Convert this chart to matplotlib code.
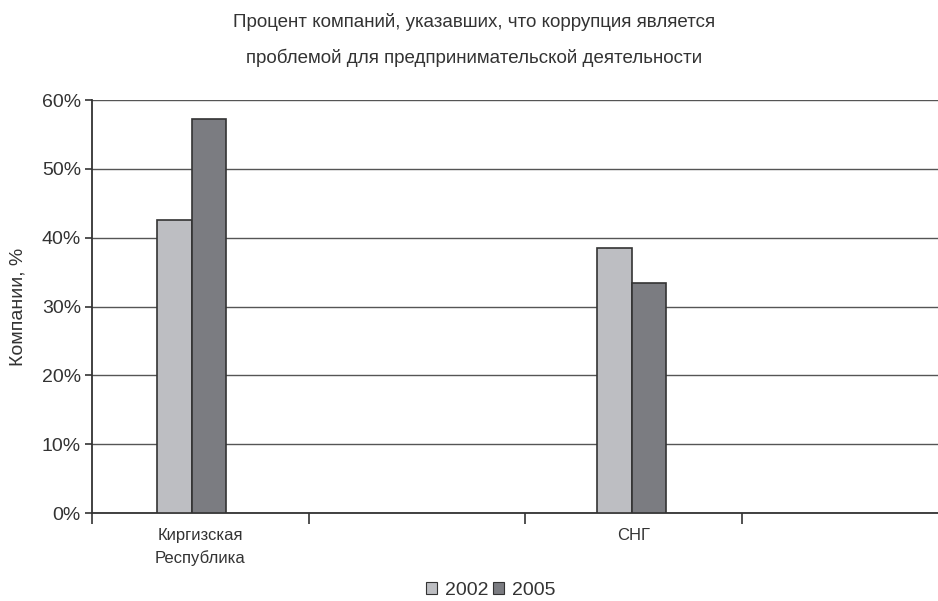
import matplotlib
matplotlib.use("Agg")
import matplotlib.pyplot as plt
from matplotlib.ticker import FuncFormatter, FixedLocator
from matplotlib.patches import Patch
import numpy as np

plt.rcParams['font.family'] = ['Liberation Sans', 'DejaVu Sans']

categories = ["Киргизская\nРеспублика", "", "СНГ", ""]
series_names = ["2002", "2005"]
values_2002 = [42.5, None, 38.5, None]
values_2005 = [57.3, None, 33.4, None]
title = "Процент компаний, указавших, что коррупция является\nпроблемой для предпринимательской деятельности"
ylabel = "Компании, %"
yticks = [0, 10, 20, 30, 40, 50, 60]

c2002 = "#bdbec2"
c2005 = "#7b7c81"
edge = "#333333"
txt = "#333333"

fig = plt.figure(figsize=(9.38, 6.01), dpi=100)
ax = fig.add_axes([92/938, 88/601, 1 - 92/938, 413/601])

x = np.arange(len(categories))
w = 0.16
offs = [-0.04, 0.0, -0.008, 0.0]
for i in range(len(categories)):
    if values_2002[i] is not None:
        ax.bar(x[i] + offs[i] - w/2, values_2002[i], w, color=c2002, edgecolor=edge, linewidth=1.2, zorder=3)
    if values_2005[i] is not None:
        ax.bar(x[i] + offs[i] + w/2, values_2005[i], w, color=c2005, edgecolor=edge, linewidth=1.2, zorder=3)

ax.set_xlim(-0.5, -0.5 + (938 - 92) / 216.5)
ax.set_ylim(0, 60)
ax.set_yticks(yticks)
ax.yaxis.set_major_formatter(FuncFormatter(lambda v, p: f"{int(v)}%"))
ax.yaxis.grid(True, color="#555555", linewidth=1.0, zorder=0)

ax.xaxis.set_major_locator(FixedLocator(np.arange(-0.5, 4.0, 1.0)))
ax.xaxis.set_major_formatter(FuncFormatter(lambda v, p: ""))
ax.xaxis.set_minor_locator(FixedLocator(x))
ax.set_xticklabels(categories, minor=True, linespacing=1.55)
ax.tick_params(axis='x', which='minor', length=0, labelsize=12, labelcolor=txt, pad=11)
ax.tick_params(axis='x', which='major', length=8, width=1.2, color="#333333", direction='out')
ax.tick_params(axis='y', length=5, width=1.2, color="#333333", labelsize=14, labelcolor=txt, pad=3)

for s in ['top', 'right']:
    ax.spines[s].set_visible(False)
for s in ['left', 'bottom']:
    ax.spines[s].set_color("#333333")
    ax.spines[s].set_linewidth(1.3)

ax.set_ylabel(ylabel, fontsize=14, color=txt)
ax.yaxis.set_label_coords(-0.077, 0.5)

fig.text(0.505, 0.934, title, ha='center', va='center', fontsize=13.5, color=txt, linespacing=2.25)

handles = [Patch(facecolor=c2002, edgecolor=edge, linewidth=0.8),
           Patch(facecolor=c2005, edgecolor=edge, linewidth=0.8)]
fig.legend(handles, series_names, loc='center', bbox_to_anchor=(0.523, 0.018), ncol=2,
           frameon=False, fontsize=14, handlelength=0.6, handleheight=0.6,
           handletextpad=0.4, columnspacing=0.2, labelcolor=txt)

fig.savefig("out.png", dpi=100)
